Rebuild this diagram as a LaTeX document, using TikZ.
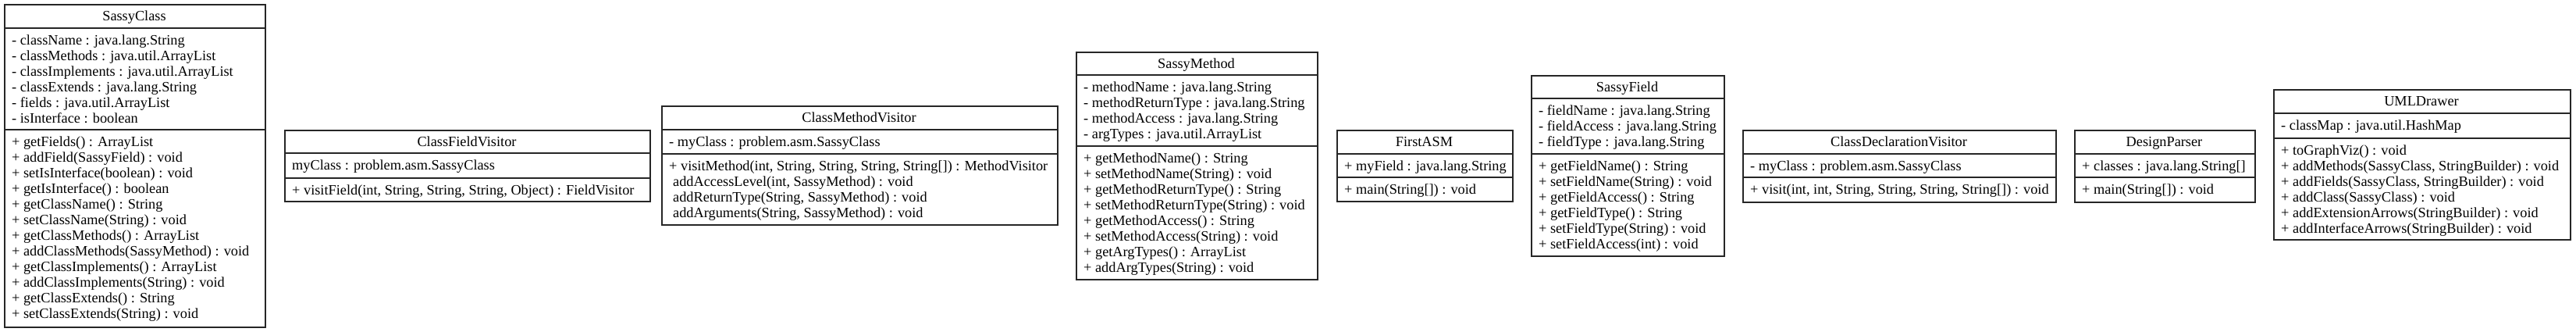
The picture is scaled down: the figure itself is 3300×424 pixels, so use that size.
\documentclass[tikz,border=0pt]{standalone}
\usepackage{fontspec}
\setmainfont{Liberation Serif}
\newcommand\umlfont{\fontsize{18.3}{20}\selectfont}
\tikzset{
  umlframe/.style={draw=black!85, line width=1.5pt},
  umlbody/.style={umlframe, fill=white, inner sep=0pt, anchor=north west},
  umltext/.style={anchor=base west, inner sep=0pt, font=\umlfont, text=black},
  umltitle/.style={anchor=base, inner sep=0pt, font=\umlfont, text=black},
}
% id, L, R, T, D1, D2, B, title
\newcommand\umlbox[8]{%
  \node[umlbody, minimum width={(#3-#2)*1pt}, minimum height={(#7-#4)*1pt}] (#1) at (#2,#4) {};
  \draw[umlframe] (#2,#5) -- (#3,#5);
  \draw[umlframe] (#2,#6) -- (#3,#6);
  \node[umltitle] (#1-title) at ({(#2+#3)/2},{#4+21}) {#8};
}
% id prefix, L, divider y, list of lines
\newcommand\umllines[4]{%
  \foreach \umlitem [count=\umli from 0] in {#4}
    \node[umltext] (#1\umli) at ({#2+10},{#3+21+20*\umli}) {\umlitem};
}
\begin{document}
\begin{tikzpicture}[x=1pt,y=-1pt]
\useasboundingbox (0,0) rectangle (3300,424);

% SassyClass
\umlbox{sc}{5}{339}{5}{36}{166}{418}{SassyClass}
\umllines{sc-a}{5}{36}{{- className : java.lang.String},{- classMethods : java.util.ArrayList},{- classImplements : java.util.ArrayList},{- classExtends : java.lang.String},{- fields : java.util.ArrayList},{- isInterface : boolean}}
\umllines{sc-m}{5}{166}{{+ getFields() : ArrayList},{+ addField(SassyField) : void},{+ setIsInterface(boolean) : void},{+ getIsInterface() : boolean},{+ getClassName() : String},{+ setClassName(String) : void},{+ getClassMethods() : ArrayList},{+ addClassMethods(SassyMethod) : void},{+ getClassImplements() : ArrayList},{+ addClassImplements(String) : void},{+ getClassExtends() : String},{+ setClassExtends(String) : void}}

% ClassFieldVisitor
\umlbox{cfv}{364}{832}{166}{196}{228}{257}{ClassFieldVisitor}
\umllines{cfv-a}{364}{196}{{myClass : problem.asm.SassyClass}}
\umllines{cfv-m}{364}{228}{{+ visitField(int, String, String, String, Object) : FieldVisitor}}

% ClassMethodVisitor
\umlbox{cmv}{847}{1354}{135}{166}{197}{287}{ClassMethodVisitor}
\umllines{cmv-a}{847}{166}{{- myClass : problem.asm.SassyClass}}
\umllines{cmv-m}{847}{197}{{+ visitMethod(int, String, String, String, String[]) : MethodVisitor},{\hspace{5pt}addAccessLevel(int, SassyMethod) : void},{\hspace{5pt}addReturnType(String, SassyMethod) : void},{\hspace{5pt}addArguments(String, SassyMethod) : void}}

% SassyMethod
\umlbox{sm}{1378}{1687}{66}{96}{187}{357}{SassyMethod}
\umllines{sm-a}{1378}{96}{{- methodName : java.lang.String},{- methodReturnType : java.lang.String},{- methodAccess : java.lang.String},{- argTypes : java.util.ArrayList}}
\umllines{sm-m}{1378}{187}{{+ getMethodName() : String},{+ setMethodName(String) : void},{+ getMethodReturnType() : String},{+ setMethodReturnType(String) : void},{+ getMethodAccess() : String},{+ setMethodAccess(String) : void},{+ getArgTypes() : ArrayList},{+ addArgTypes(String) : void}}

% FirstASM
\umlbox{fa}{1712}{1937}{166}{197}{227}{257}{FirstASM}
\umllines{fa-a}{1712}{197}{{+ myField : java.lang.String}}
\umllines{fa-m}{1712}{227}{{+ main(String[]) : void}}

% SassyField
\umlbox{sf}{1961}{2208}{96}{126}{197}{327}{SassyField}
\umllines{sf-a}{1961}{126}{{- fieldName : java.lang.String},{- fieldAccess : java.lang.String},{- fieldType : java.lang.String}}
\umllines{sf-m}{1961}{197}{{+ getFieldName() : String},{+ setFieldName(String) : void},{+ getFieldAccess() : String},{+ getFieldType() : String},{+ setFieldType(String) : void},{+ setFieldAccess(int) : void}}

% ClassDeclarationVisitor
\umlbox{cdv}{2232}{2633}{166}{197}{227}{258}{ClassDeclarationVisitor}
\umllines{cdv-a}{2232}{197}{{- myClass : problem.asm.SassyClass}}
\umllines{cdv-m}{2232}{227}{{+ visit(int, int, String, String, String, String[]) : void}}

% DesignParser
\umlbox{dp}{2657}{2888}{166}{197}{227}{258}{DesignParser}
\umllines{dp-a}{2657}{197}{{+ classes : java.lang.String[]}}
\umllines{dp-m}{2657}{227}{{+ main(String[]) : void}}

% UMLDrawer
\umlbox{ud}{2912}{3292}{114}{145}{177}{306}{UMLDrawer}
\umllines{ud-a}{2912}{145}{{- classMap : java.util.HashMap}}
\umllines{ud-m}{2912}{177}{{+ toGraphViz() : void},{+ addMethods(SassyClass, StringBuilder) : void},{+ addFields(SassyClass, StringBuilder) : void},{+ addClass(SassyClass) : void},{+ addExtensionArrows(StringBuilder) : void},{+ addInterfaceArrows(StringBuilder) : void}}
\end{tikzpicture}
\end{document}
